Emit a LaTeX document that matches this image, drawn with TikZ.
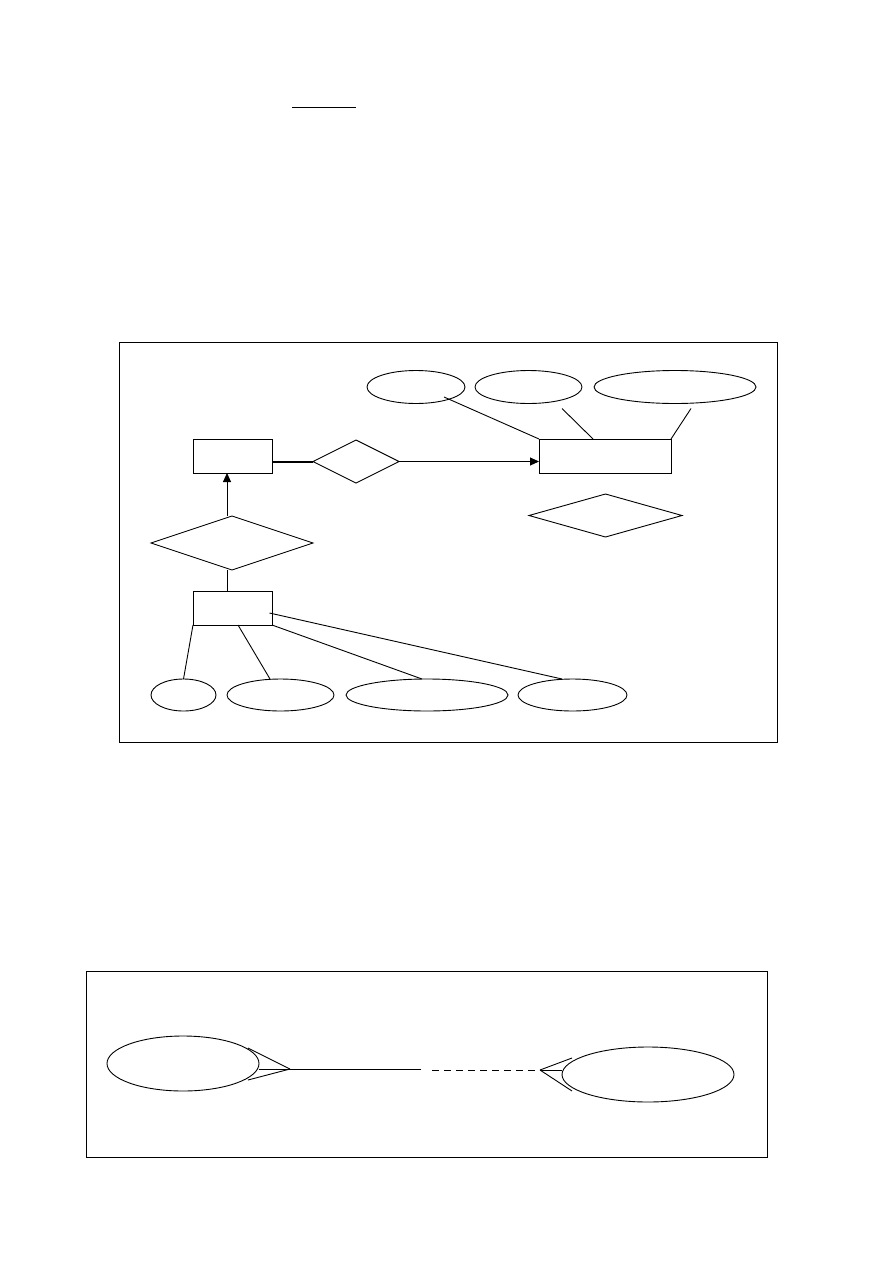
\documentclass[tikz,border=0pt]{standalone}
\usetikzlibrary{shapes.geometric,arrows.meta,calc}
\begin{document}
\begin{tikzpicture}[x=1pt,y=-1pt,line width=0.9pt,
  ent/.style={draw,rectangle,inner sep=0pt,outer sep=0pt},
  attr/.style={draw,ellipse,inner sep=0pt,outer sep=0pt},
  rel/.style={draw,diamond,inner sep=0pt,outer sep=0pt},
  frame/.style={draw,line width=0.8pt},
  tip/.style={-{Triangle[length=9pt,width=8pt]}}]
\useasboundingbox (0,0) rectangle (893,1263);
% underline at top
\coordinate (u1) at (292,107);
\coordinate (u2) at (356,107);
\draw (u1) -- (u2);
% frame 1
\draw[frame] (119,342) rectangle (777,742);
% entities
\node[ent,minimum width=79pt,minimum height=34pt] (R1) at (232.5,456) {};
\node[ent,minimum width=132pt,minimum height=34pt] (R2) at (605,456) {};
\node[ent,minimum width=79pt,minimum height=34pt] (R3) at (232.5,608) {};
% relationships
\node[rel,minimum width=86pt,minimum height=43pt] (D1) at (356,461.5) {};
\node[rel,minimum width=162pt,minimum height=54pt] (D2) at (232,543) {};
\node[rel,minimum width=153pt,minimum height=43pt] (D3) at (605.5,515.5) {};
% top attributes
\node[attr,minimum width=98pt,minimum height=33pt] (E1) at (416,387) {};
\node[attr,minimum width=107pt,minimum height=33pt] (E2) at (528.5,387) {};
\node[attr,minimum width=162pt,minimum height=33pt] (E3) at (675,387) {};
% bottom attributes
\node[attr,minimum width=65pt,minimum height=32pt] (B1) at (183.5,695) {};
\node[attr,minimum width=107pt,minimum height=32pt] (B2) at (280.5,695) {};
\node[attr,minimum width=162pt,minimum height=32pt] (B3) at (427,695) {};
\node[attr,minimum width=109pt,minimum height=32pt] (B4) at (572.5,695) {};
% connectors
\draw[line width=2pt] (R1.east |- D1.west) -- (D1.west);
\draw[tip] (D1.east) -- (R2.west |- D1.east);
\draw[tip] ([xshift=-5pt]D2.north) -- ([xshift=-5.5pt]R1.south);
\draw ([xshift=-5pt]D2.south) -- ([xshift=-5.5pt]R3.north);
\draw ([shift={(28,10)}]E1.center) -- (R2.north west);
\draw ([shift={(33.5,5)}]E2.south) -- ([xshift=-12pt]R2.north);
\draw ([shift={(16,5)}]E3.south) -- (R2.north east);
\draw (R3.south west) -- (B1.north);
\draw ([xshift=5.5pt]R3.south) -- ([xshift=-10.5pt]B2.north);
\draw (R3.south east) -- ([xshift=-5pt]B3.north);
\draw ([shift={(-2.5,5)}]R3.east) -- ([xshift=-10.5pt]B4.north);
% frame 2
\draw[frame] (86,971) rectangle (767,1157);
\node[attr,minimum width=152pt,minimum height=55pt] (L) at (183,1063.5) {};
\node[attr,minimum width=172pt,minimum height=55pt] (R) at (648,1074.5) {};
\coordinate (la) at (290,1069);
\coordinate (ls) at (421,1069);
\coordinate (ds) at (432,1070);
\coordinate (ra) at (540,1070);
\draw (la) -- ([shift={(65,-15.5)}]L.center);
\draw (la) -- (L.east |- la);
\draw (la) -- ([shift={(65,16.5)}]L.center);
\draw (la) -- (ls);
\draw[dash pattern=on 7pt off 5pt] (ds) -- (ra);
\draw (ra) -- ([shift={(-76,-16.5)}]R.center);
\draw (ra) -- (R.west |- ra);
\draw (ra) -- ([shift={(-76,16.5)}]R.center);
\end{tikzpicture}
\end{document}
